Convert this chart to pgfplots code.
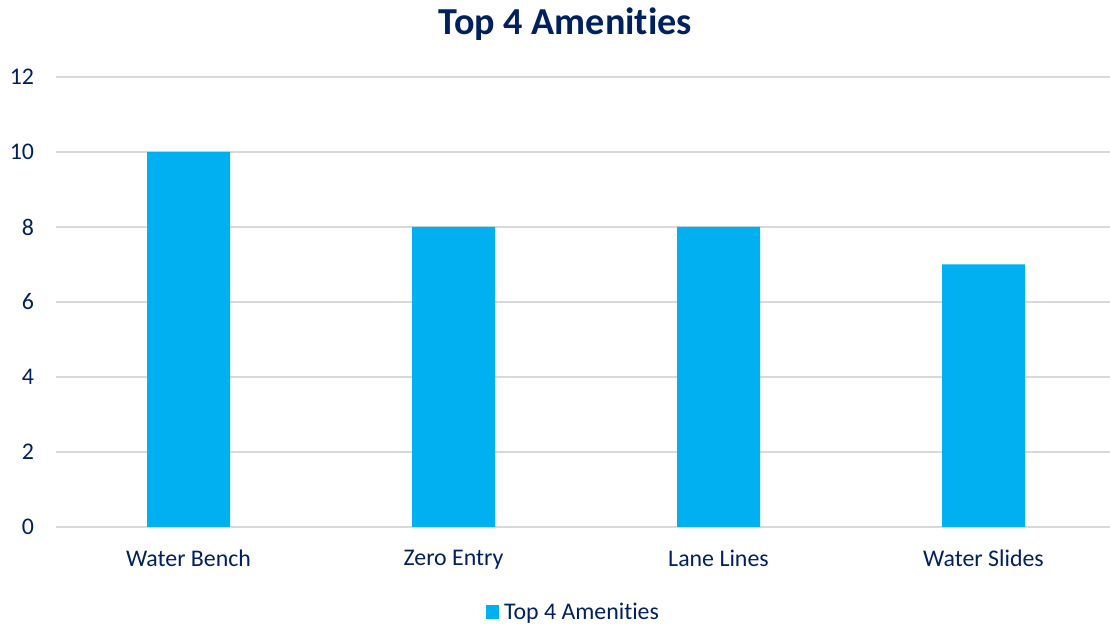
\documentclass[border=0pt]{standalone}
\usepackage{pgfplots}
\pgfplotsset{compat=1.18}
\usepackage{fontspec}
\setmainfont{Carlito}[Ligatures={NoCommon}]
\definecolor{navy}{HTML}{002060}
\definecolor{barblue}{HTML}{00B0F0}
\definecolor{gridgray}{HTML}{D9D9D9}
\begin{document}
\begin{tikzpicture}
\path[use as bounding box] (0pt,0pt) rectangle (832.5pt,470.25pt);
\node[font=\fontsize{28.6}{32}\selectfont\bfseries, text=navy] at (424pt,452pt) {Top 4 Amenities};
\begin{axis}[
  at={(42pt,75pt)}, anchor=south west,
  scale only axis,
  width=795pt, height=337.5pt,
  xmin=-0.5, xmax=3.5,
  ymin=0, ymax=12,
  ytick={0,2,4,6,8,10,12},
  xtick={0,1,2,3},
  xticklabels={Water Bench, Zero Entry, Lane Lines, Water Slides},
  /pgf/number format/assume math mode=true,
  ticklabel style={font=\fontsize{17.9}{20}\selectfont, text=navy},
  yticklabel style={xshift=-13pt},
  xticklabel style={yshift=-13.5pt},
  major tick length=0pt,
  axis line style={draw=none},
  axis x line*=bottom,
  axis y line*=left,
  ymajorgrids,
  grid style={gridgray, line width=1.1pt},
  ybar, bar width=62.25pt,
  legend style={at={(0.4896,-0.1889)}, anchor=center, draw=none, fill=none,
    font=\fontsize{17.9}{20}\selectfont, text=navy,
    legend columns=1, inner sep=0pt,
    nodes={inner xsep=4pt}},
  legend image code/.code={\fill[barblue] (0pt,-4.9pt) rectangle (9.8pt,4.9pt);},
  clip=false,
]
\addplot[fill=barblue, draw=none] coordinates {(0,10) (1,8) (2,8) (3,7)};
\addlegendentry{Top 4 Amenities}
\end{axis}
\end{tikzpicture}
\end{document}
